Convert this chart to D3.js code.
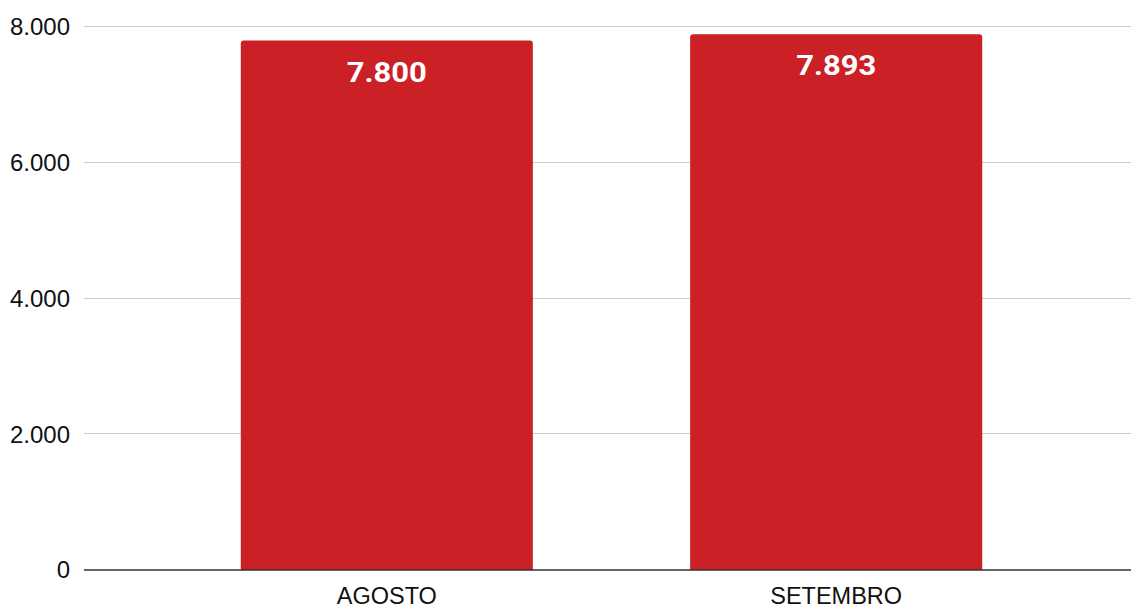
<!DOCTYPE html>
<html><head><meta charset="utf-8">
<script src="https://cdn.jsdelivr.net/npm/d3@7"></script>
<style>body{margin:0;background:#fff}</style>
</head><body>
<svg id="c" width="1131" height="608"></svg>
<script>
const categories = ["AGOSTO", "SETEMBRO"];
const values = [7800, 7893];
const yTicks = [0, 2000, 4000, 6000, 8000];

const svg = d3.select("#c");
const fmt = v => d3.format(",")(v).replace(/,/g, ".");
const y = d3.scaleLinear().domain([0, 8000]).range([570, 27]);
const x = d3.scaleBand().domain(categories).range([88, 1135]).paddingInner(0.35).paddingOuter(0.34);

// gridlines
svg.append("g").selectAll("line").data(yTicks.filter(d => d > 0)).join("line")
  .attr("x1", 84).attr("x2", 1131)
  .attr("y1", d => Math.round(y(d)) - 0.5).attr("y2", d => Math.round(y(d)) - 0.5)
  .attr("stroke", "#cccccc").attr("stroke-width", 1.2);

// y labels
svg.append("g").selectAll("text").data(yTicks).join("text")
  .attr("x", 70).attr("y", d => y(d)).attr("dy", "0.35em")
  .attr("text-anchor", "end")
  .attr("font-family", "Liberation Sans, Arial, sans-serif")
  .attr("font-size", 24).attr("fill", "#111")
  .text(d => fmt(d));

// bars with rounded top corners
const r = 3;
svg.append("g").selectAll("path").data(values).join("path")
  .attr("fill", "#cc2027")
  .attr("d", (d, i) => {
    const x0 = x(categories[i]), w = x.bandwidth(), y0 = y(d), yb = y(0);
    return `M${x0},${yb}V${y0 + r}Q${x0},${y0} ${x0 + r},${y0}H${x0 + w - r}Q${x0 + w},${y0} ${x0 + w},${y0 + r}V${yb}Z`;
  });

// value labels
svg.append("g").selectAll("text").data(values).join("text")
  .attr("x", (d, i) => x(categories[i]) + x.bandwidth() / 2)
  .attr("y", d => y(d) + 41)
  .attr("text-anchor", "middle")
  .attr("font-family", "Roboto, sans-serif").attr("font-weight", "bold")
  .attr("font-size", 27).attr("fill", "#fff")
  .attr("textLength", 80).attr("lengthAdjust", "spacingAndGlyphs")
  .text(d => fmt(d));

// baseline
svg.append("line").attr("x1", 84).attr("x2", 1131)
  .attr("y1", y(0)).attr("y2", y(0))
  .attr("stroke", "#333").attr("stroke-width", 1.5);

// category labels
svg.append("g").selectAll("text").data(categories).join("text")
  .attr("x", d => x(d) + x.bandwidth() / 2)
  .attr("y", 604)
  .attr("text-anchor", "middle")
  .attr("font-family", "Liberation Sans, Arial, sans-serif")
  .attr("font-size", 23.5).attr("fill", "#111")
  .text(d => d);
</script>
</body></html>
